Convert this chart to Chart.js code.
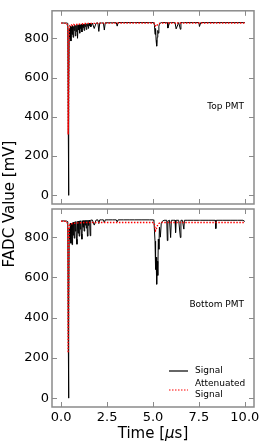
<!DOCTYPE html>
<html>
<head>
<meta charset="utf-8">
<script src="https://cdn.jsdelivr.net/npm/chart.js@4.4.0/dist/chart.umd.min.js"></script>
<style>
  html, body { margin: 0; padding: 0; background: #fff; }
  #wrap { position: relative; width: 266px; height: 446px; }
  #wrap canvas { position: absolute; left: 0; top: 0; }
</style>
</head>
<body>
<div id="wrap">
  <canvas id="topChart" width="266" height="446"></canvas>
  <canvas id="bottomChart" width="266" height="446"></canvas>
</div>
<script>
// time of each sample, in microseconds
const timeUs = [
  0.0, 0.1, 0.2, 0.3, 0.36,
  0.38, 0.40, 0.42, 0.44,
  0.47, 0.50, 0.53, 0.56, 0.59, 0.62, 0.65, 0.68, 0.71, 0.74,
  0.77, 0.80, 0.83, 0.86, 0.89, 0.92, 0.95, 0.98, 1.01, 1.04,
  1.07, 1.10, 1.13, 1.16, 1.19, 1.22, 1.25, 1.28, 1.31, 1.34,
  1.37, 1.40, 1.43, 1.46, 1.49, 1.52, 1.55, 1.58, 1.61,
  1.7, 1.8, 1.9, 2.0, 2.05, 2.1, 2.2, 2.3, 2.35, 2.4,
  2.6, 2.8, 3.0, 3.05, 3.1, 3.4, 3.7, 4.0, 4.4, 4.8,
  5.0,
  5.05, 5.08, 5.11, 5.14, 5.17, 5.20, 5.23, 5.26, 5.29, 5.32,
  5.35, 5.40, 5.45,
  5.5, 5.6, 5.75, 5.78, 5.81, 5.9, 5.96, 6.0, 6.1, 6.2,
  6.23, 6.26, 6.4, 6.49, 6.52, 6.6, 6.68, 6.71, 6.9, 7.2,
  7.5, 7.53, 7.6, 8.0, 8.39, 8.42, 8.45, 8.8, 9.2, 9.6,
  9.9, 10.0
];

// FADC values in mV
const topSignal = [
  878, 878, 877, 878, 876,
  440, 0, 520, 850,
  800, 862, 786, 858, 820, 866, 805, 860, 840, 868,
  812, 864, 835, 869, 800, 866, 842, 871, 826, 868,
  850, 872, 832, 870, 855, 873, 840, 872, 860, 874,
  845, 874, 862, 875, 850, 876, 865, 876, 858,
  877, 850, 877, 878, 835, 878, 878, 878, 842, 879,
  879, 879, 880, 862, 880, 880, 880, 880, 880, 880,
  880,
  878, 865, 820, 850, 790, 760, 805, 840, 826, 862,
  872, 878, 880,
  880, 880, 880, 880, 852, 880, 880, 880, 880, 880,
  880, 848, 880, 846, 880, 880, 880, 880, 880, 880,
  880, 860, 880, 880, 880, 880, 880, 880, 880, 880,
  880, 880
];

const topAttenuated = [
  877, 877, 877, 877, 860,
  310, 420, 760, 855,
  864, 866, 864, 868, 866, 869, 867, 870, 868, 870,
  869, 871, 870, 871, 870, 872, 871, 872, 872, 873,
  872, 873, 873, 874, 873, 874, 874, 875, 874, 875,
  875, 875, 875, 876, 876, 876, 876, 876, 876,
  876, 876, 876, 877, 876, 877, 877, 877, 877, 877,
  877, 877, 878, 877, 878, 878, 878, 878, 878, 878,
  878,
  878, 875, 868, 862, 860, 864, 868, 871, 873, 875,
  876, 877, 878,
  878, 878, 878, 878, 878, 878, 878, 878, 878, 878,
  878, 878, 878, 878, 878, 878, 878, 878, 878, 878,
  878, 878, 878, 878, 878, 878, 878, 878, 878, 878,
  878, 878
];

const bottomSignal = [
  880, 881, 880, 880, 877,
  380, 0, 450, 840,
  790, 870, 770, 868, 763, 872, 810, 875, 795, 876,
  830, 878, 790, 765, 878, 820, 880, 805, 881, 840,
  882, 815, 790, 882, 850, 883, 830, 883, 860, 884,
  845, 884, 805, 884, 858, 885, 870, 807, 885,
  885, 860, 885, 886, 868, 886, 886, 886, 872, 886,
  886, 886, 886, 876, 886, 886, 886, 886, 886, 886,
  886,
  884, 830, 780, 640, 700, 566, 680, 610, 790, 740,
  850, 800, 870,
  878, 884, 884, 783, 880, 884, 798, 884, 884, 884,
  823, 884, 884, 798, 884, 884, 840, 884, 884, 884,
  884, 884, 884, 884, 884, 843, 884, 884, 884, 884,
  884, 878
];

const bottomAttenuated = [
  879, 879, 879, 878, 862,
  225, 380, 720, 850,
  862, 865, 866, 867, 867, 868, 868, 869, 869, 869,
  870, 870, 870, 870, 871, 871, 871, 871, 871, 872,
  872, 872, 872, 872, 872, 873, 873, 873, 873, 873,
  873, 873, 873, 873, 873, 873, 873, 873, 873,
  873, 873, 873, 873, 873, 873, 873, 873, 873, 873,
  873, 873, 873, 873, 873, 873, 873, 873, 873, 873,
  873,
  872, 862, 845, 832, 836, 846, 855, 862, 866, 868,
  870, 871, 872,
  873, 873, 873, 873, 873, 873, 873, 873, 873, 873,
  873, 873, 873, 873, 873, 873, 873, 873, 873, 873,
  873, 873, 873, 873, 873, 873, 873, 873, 873, 873,
  873, 873
];

const xTicks = [0, 2.5, 5, 7.5, 10];
const xTickLabels = ['0.0', '2.5', '5.0', '7.5', '10.0'];
const yTicks = [0, 200, 400, 600, 800];

const FONT = "'DejaVu Sans', sans-serif";
const SPINE = '#8a8a8a';

function points(values) {
  return timeUs.map((t, i) => ({ x: t, y: values[i] }));
}

// box around the plot + inward ticks on all four sides
const framePlugin = {
  id: 'frame',
  afterDraw(chart) {
    const ctx = chart.ctx, a = chart.chartArea;
    const xs = chart.scales.x, ys = chart.scales.y;
    ctx.save();
    ctx.strokeStyle = SPINE;
    ctx.lineWidth = 1.5;
    ctx.strokeRect(a.left, a.top, a.right - a.left, a.bottom - a.top);
    ctx.lineWidth = 1;
    ctx.beginPath();
    xTicks.forEach(v => {
      const px = Math.round(xs.getPixelForValue(v)) + 0.5;
      ctx.moveTo(px, a.bottom); ctx.lineTo(px, a.bottom - 5);
      ctx.moveTo(px, a.top); ctx.lineTo(px, a.top + 5);
    });
    yTicks.forEach(v => {
      const py = Math.round(ys.getPixelForValue(v)) + 0.5;
      ctx.moveTo(a.left, py); ctx.lineTo(a.left + 5, py);
      ctx.moveTo(a.right, py); ctx.lineTo(a.right - 5, py);
    });
    ctx.stroke();
    ctx.restore();
  }
};

// "Top PMT" / "Bottom PMT"
const panelLabelPlugin = {
  id: 'panelLabel',
  afterDraw(chart, args, opts) {
    const ctx = chart.ctx, a = chart.chartArea;
    ctx.save();
    ctx.font = '9px ' + FONT;
    ctx.fillStyle = '#000';
    ctx.textAlign = 'right';
    ctx.textBaseline = 'middle';
    ctx.fillText(opts.text, a.right - 10, a.top + opts.dy);
    ctx.restore();
  }
};

// legend in the lower panel
const legendPlugin = {
  id: 'legendBox',
  afterDraw(chart, args, opts) {
    if (!opts.show) return;
    const ctx = chart.ctx, a = chart.chartArea;
    const ds = chart.data.datasets;
    const x0 = a.right - 85, x1 = a.right - 66, tx = a.right - 59;
    ctx.save();
    ctx.lineWidth = 1.2;
    ctx.strokeStyle = ds[0].borderColor;
    ctx.beginPath(); ctx.moveTo(x0, a.top + 162); ctx.lineTo(x1, a.top + 162); ctx.stroke();
    ctx.strokeStyle = ds[1].borderColor;
    ctx.setLineDash([1.5, 1.5]);
    ctx.beginPath(); ctx.moveTo(x0, a.top + 181); ctx.lineTo(x1, a.top + 181); ctx.stroke();
    ctx.setLineDash([]);
    ctx.font = '9px ' + FONT;
    ctx.fillStyle = '#000';
    ctx.textAlign = 'left';
    ctx.textBaseline = 'middle';
    ctx.fillText('Signal', tx, a.top + 162);
    ctx.fillText('Attenuated', tx, a.top + 175);
    ctx.fillText('Signal', tx, a.top + 186);
    ctx.restore();
  }
};

// axis titles shared by both panels
const titlesPlugin = {
  id: 'titles',
  afterDraw(chart, args, opts) {
    if (!opts.show) return;
    const ctx = chart.ctx;
    ctx.save();
    ctx.fillStyle = '#000';
    ctx.textBaseline = 'middle';
    // x title with italic mu
    const parts = [['Time [', ''], ['\u03bc', 'italic '], ['s]', '']];
    let w = 0;
    parts.forEach(p => { ctx.font = p[1] + '15px ' + FONT; w += ctx.measureText(p[0]).width; });
    let x = 153 - w / 2;
    ctx.textAlign = 'left';
    parts.forEach(p => {
      ctx.font = p[1] + '15px ' + FONT;
      ctx.fillText(p[0], x, 434);
      x += ctx.measureText(p[0]).width;
    });
    // y title
    ctx.translate(10, 204);
    ctx.rotate(-Math.PI / 2);
    ctx.textAlign = 'center';
    ctx.font = '15px ' + FONT;
    ctx.fillText('FADC Value [mV]', 0, 0);
    ctx.restore();
  }
};

function makeChart(id, signal, attenuated, cfg) {
  return new Chart(document.getElementById(id), {
    type: 'line',
    data: {
      datasets: [
        {
          label: 'Signal',
          data: points(signal),
          borderColor: '#000000',
          borderWidth: 1,
          pointRadius: 0,
          tension: 0,
          order: 2
        },
        {
          label: 'Attenuated Signal',
          data: points(attenuated),
          borderColor: '#ff0000',
          borderWidth: 1.4,
          borderDash: [1.5, 1.5],
          pointRadius: 0,
          tension: 0,
          order: 1
        }
      ]
    },
    options: {
      responsive: false,
      animation: false,
      layout: { padding: cfg.padding },
      scales: {
        x: {
          type: 'linear',
          min: -0.5,
          max: 10.5,
          afterBuildTicks: s => { s.ticks = xTicks.map(v => ({ value: v })); },
          ticks: {
            display: cfg.showX,
            autoSkip: false,
            maxRotation: 0,
            padding: 3,
            color: '#000',
            font: { family: FONT, size: 13 },
            callback: (v, i) => xTickLabels[i]
          },
          grid: { display: false, drawTicks: false },
          border: { display: false },
          afterFit: s => { s.height = cfg.showX ? 39 : 0; }
        },
        y: {
          type: 'linear',
          min: -44,
          max: 940,
          afterBuildTicks: s => { s.ticks = yTicks.map(v => ({ value: v })); },
          ticks: {
            padding: 3,
            color: '#000',
            font: { family: FONT, size: 13 }
          },
          grid: { display: false, drawTicks: false },
          border: { display: false },
          afterFit: s => { s.width = 52; }
        }
      },
      plugins: {
        legend: { display: false },
        tooltip: { enabled: false },
        panelLabel: { text: cfg.label, dy: cfg.labelDy },
        legendBox: { show: cfg.showX },
        titles: { show: cfg.showX }
      }
    },
    plugins: [framePlugin, panelLabelPlugin, legendPlugin, titlesPlugin]
  });
}

makeChart('topChart', topSignal, topAttenuated, {
  padding: { left: 0, right: 12, top: 7, bottom: 242 },
  showX: false,
  label: 'Top PMT',
  labelDy: 96
});

makeChart('bottomChart', bottomSignal, bottomAttenuated, {
  padding: { left: 0, right: 12, top: 209, bottom: 0 },
  showX: true,
  label: 'Bottom PMT',
  labelDy: 96
});
</script>
</body>
</html>
